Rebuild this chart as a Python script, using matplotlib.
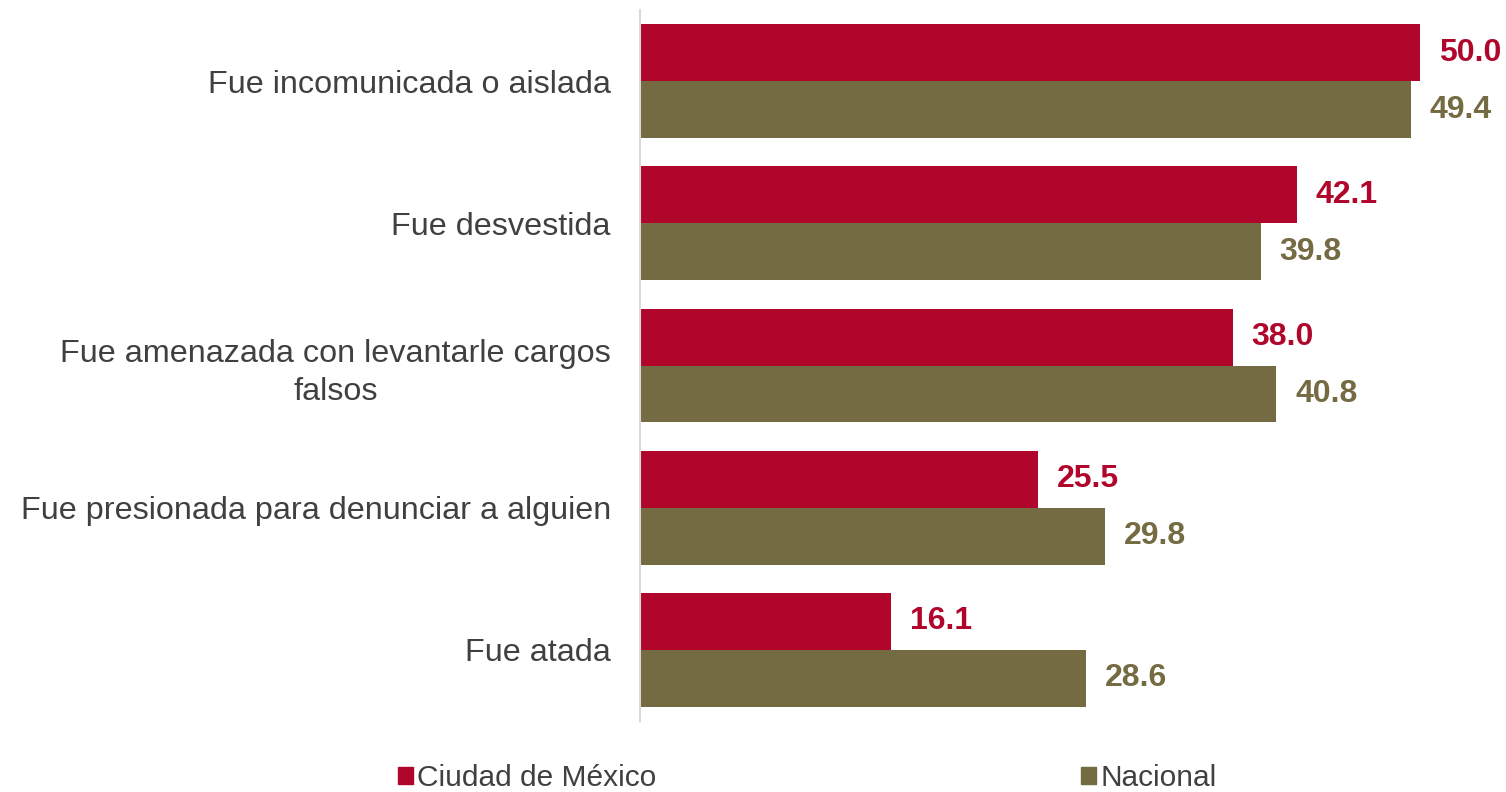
import matplotlib.pyplot as plt
from matplotlib.patches import Patch
import numpy as np

plt.rcParams['font.family'] = ['Liberation Sans', 'DejaVu Sans']

categorias = [
    "Fue incomunicada o aislada",
    "Fue desvestida",
    "Fue amenazada con levantarle cargos\nfalsos",
    "Fue presionada para denunciar a alguien",
    "Fue atada",
]
cdmx = [50.0, 42.1, 38.0, 25.5, 16.1]
nacional = [49.4, 39.8, 40.8, 29.8, 28.6]

color_cdmx = "#B0062C"
color_nac = "#756B43"

fig = plt.figure(figsize=(15.06, 7.92), dpi=100)
ax = fig.add_axes([640 / 1506, 1 - 721 / 792, 858 / 1506, 711 / 792])

y = np.arange(len(categorias))
alto = 0.4
ax.barh(y - alto / 2, cdmx, height=alto, color=color_cdmx)
ax.barh(y + alto / 2, nacional, height=alto, color=color_nac)

# etiquetas de valor
for i in range(len(categorias)):
    ax.text(cdmx[i] + 1.2, y[i] - alto / 2, f"{cdmx[i]:.1f}", va="center", ha="left",
            fontsize=23, fontweight="bold", color=color_cdmx)
    ax.text(nacional[i] + 1.2, y[i] + alto / 2, f"{nacional[i]:.1f}", va="center", ha="left",
            fontsize=23, fontweight="bold", color=color_nac)

ax.set_xlim(0, 55)
ax.set_ylim(len(categorias) - 0.5, -0.5)
ax.set_yticks(y)
ax.set_yticklabels(categorias, fontsize=23.3, color="#404040", multialignment="center",
                   linespacing=1.35)
ax.tick_params(axis="y", length=0, pad=21)
ax.set_xticks([])
for lado in ["top", "right", "bottom"]:
    ax.spines[lado].set_visible(False)
ax.spines["left"].set_color("#D9D9D9")
ax.spines["left"].set_linewidth(1.5)

handles = [Patch(color=color_cdmx, label="Ciudad de México"),
           Patch(color=color_nac, label="Nacional")]
fig.legend(handles=handles, loc="center left", bbox_to_anchor=(383 / 1506, 1 - 778 / 792),
           ncol=2, frameon=False, fontsize=21.5, handlelength=0.5, handleheight=0.5,
           handletextpad=0.15, columnspacing=14.2, borderpad=0, labelcolor="#404040")

fig.savefig("out.png", dpi=100)
